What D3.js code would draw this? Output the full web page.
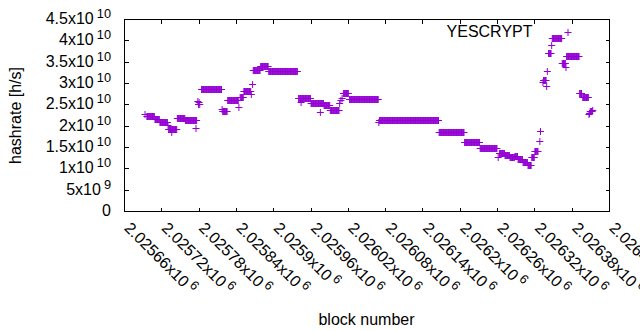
<!DOCTYPE html>
<html>
<head>
<meta charset="utf-8">
<script src="https://cdn.jsdelivr.net/npm/d3@7.9.0/dist/d3.min.js"></script>
<style>
  body { margin: 0; background: #fff; }
  text { font-family: "Liberation Sans", Arial, sans-serif; font-size: 16px; fill: #000; }
</style>
</head>
<body>
<svg id="chart" width="640" height="330"></svg>
<script>
// runs of consecutive blocks sharing one hashrate value
const runStart = [
  2025693, 2025696, 2025709, 2025717, 2025730, 2025731, 2025736, 2025745, 2025758, 2025775,
  2025778, 2025779, 2025780, 2025781, 2025784, 2025817, 2025818, 2025826, 2025844, 2025846,
  2025852, 2025864, 2025866, 2025867, 2025879, 2025892, 2025940, 2025944, 2025960, 2025975,
  2025981, 2025991, 2026006, 2026008, 2026010, 2026012, 2026022, 2026069, 2026070, 2026166,
  2026207, 2026232, 2026261, 2026263, 2026272, 2026280, 2026288, 2026293, 2026301, 2026309,
  2026315, 2026320, 2026328, 2026329, 2026333, 2026334, 2026339, 2026340, 2026342, 2026347,
  2026348, 2026364, 2026370, 2026371, 2026392, 2026397, 2026407, 2026408, 2026409, 2026413
];
const runLen = [
  1, 13, 8, 13, 1, 14, 1, 13, 19, 1,
  1, 1, 1, 1, 33, 1, 8, 18, 1, 6,
  12, 1, 1, 12, 13, 47, 20, 1, 21, 1,
  10, 15, 1, 1, 1, 9, 47, 1, 96, 41,
  25, 28, 1, 9, 8, 8, 5, 8, 8, 6,
  5, 6, 1, 1, 1, 5, 1, 1, 5, 1,
  16, 6, 1, 21, 4, 10, 1, 1, 4, 1
];
// hashrate in units of 1e9 h/s
const runRate = [
  22.8, 22.3, 21.7, 21.0, 20.2, 19.4, 18.7, 21.8, 21.4, 19.5,
  25.9, 25.3, 25.6, 25.1, 28.6, 24.0, 23.5, 26.1, 24.6, 26.8,
  28.2, 27.5, 30.0, 33.2, 34.1, 32.9, 26.5, 25.7, 25.4, 23.3,
  25.0, 23.9, 25.5, 26.1, 26.5, 27.7, 26.4, 20.9, 21.4, 18.6,
  16.2, 15.0, 12.8, 13.6, 13.2, 12.7, 13.0, 12.3, 11.6, 11.0,
  12.7, 14.1, 16.5, 18.8, 30.3, 30.8, 29.5, 33.0, 37.1, 39.0,
  40.6, 34.7, 33.9, 36.4, 27.8, 26.8, 22.8, 23.0, 23.6, 23.8
];

const xTicks = [2025660, 2025720, 2025780, 2025840, 2025900, 2025960, 2026020,
                2026080, 2026140, 2026200, 2026260, 2026320, 2026380, 2026440];
const xTickMant = ['2.02566x10', '2.02572x10', '2.02578x10', '2.02584x10', '2.0259x10',
                   '2.02596x10', '2.02602x10', '2.02608x10', '2.02614x10', '2.0262x10',
                   '2.02626x10', '2.02632x10', '2.02638x10', '2.02644x10'];
const xTickExp = ['6', '6', '6', '6', '6', '6', '6', '6', '6', '6', '6', '6', '6', '6'];

const yTicks = [0, 5e9, 1e10, 1.5e10, 2e10, 2.5e10, 3e10, 3.5e10, 4e10, 4.5e10];
const yTickMant = ['0', '5x10', '1x10', '1.5x10', '2x10', '2.5x10', '3x10', '3.5x10', '4x10', '4.5x10'];
const yTickExp = ['', '9', '10', '10', '10', '10', '10', '10', '10', '10'];

const seriesName = 'YESCRYPT';
const color = '#9400d3';

// expand runs into one point per block
const points = [];
runStart.forEach((s, i) => {
  for (let k = 0; k < runLen[i]; k++) points.push({ block: s + k, rate: runRate[i] * 1e9 });
});

const svg = d3.select('#chart');
const x = d3.scaleLinear().domain([2025660, 2026440]).range([124.5, 609.5]);
const y = d3.scaleLinear().domain([0, 4.5e10]).range([211.5, 19.5]);

const plus = 'M-3.5,0H3.5M0,-3.5V3.5';

// data points
svg.append('g')
  .selectAll('path')
  .data(points)
  .join('path')
  .attr('d', plus)
  .attr('transform', d => `translate(${x(d.block)},${Math.round(y(d.rate)) + 0.5})`)
  .attr('fill', 'none')
  .attr('stroke', color)
  .attr('stroke-width', 1);

// axes with inward ticks, mirrored
const tick = 4;
const axes = svg.append('g').attr('stroke', '#000').attr('stroke-width', 1).attr('shape-rendering', 'crispEdges');
xTicks.forEach(t => {
  axes.append('line').attr('x1', x(t)).attr('x2', x(t)).attr('y1', y.range()[0]).attr('y2', y.range()[0] - tick);
  axes.append('line').attr('x1', x(t)).attr('x2', x(t)).attr('y1', y.range()[1]).attr('y2', y.range()[1] + tick);
});
yTicks.forEach(t => {
  axes.append('line').attr('x1', x.range()[0]).attr('x2', x.range()[0] + tick).attr('y1', y(t)).attr('y2', y(t));
  axes.append('line').attr('x1', x.range()[1]).attr('x2', x.range()[1] - tick).attr('y1', y(t)).attr('y2', y(t));
});
axes.append('rect')
  .attr('x', x.range()[0]).attr('y', y.range()[1])
  .attr('width', x.range()[1] - x.range()[0]).attr('height', y.range()[0] - y.range()[1])
  .attr('fill', 'none');

// y tick labels (enhanced text: mantissa + superscript exponent)
yTicks.forEach((t, i) => {
  const tx = svg.append('text').attr('x', 111).attr('y', y(t) + 4.5).attr('text-anchor', 'end');
  tx.append('tspan').text(yTickMant[i]);
  if (yTickExp[i]) tx.append('tspan').attr('dx', 3).attr('dy', -6).style('font-size', '12.8px').text(yTickExp[i]);
});

// x tick labels rotated by 45 degrees
xTicks.forEach((t, i) => {
  const g = svg.append('g').attr('transform', `translate(${x(t) - 1},229) rotate(45)`);
  const tx = g.append('text').attr('x', 0).attr('y', 0);
  tx.append('tspan').text(xTickMant[i]);
  tx.append('tspan').attr('dx', 3).attr('dy', -6).style('font-size', '12.8px').text(xTickExp[i]);
});

// axis titles
svg.append('text')
  .attr('transform', 'translate(20.5,115.5) rotate(-90)')
  .attr('text-anchor', 'middle')
  .text('hashrate [h/s]');
svg.append('text')
  .attr('x', 366.5).attr('y', 324.5)
  .attr('text-anchor', 'middle')
  .text('block number');

// key
svg.append('text').attr('x', 532.5).attr('y', 37.3).attr('text-anchor', 'end').text(seriesName);
svg.append('path')
  .attr('d', plus)
  .attr('transform', 'translate(568,32.5)')
  .attr('fill', 'none')
  .attr('stroke', color);
</script>
</body>
</html>
